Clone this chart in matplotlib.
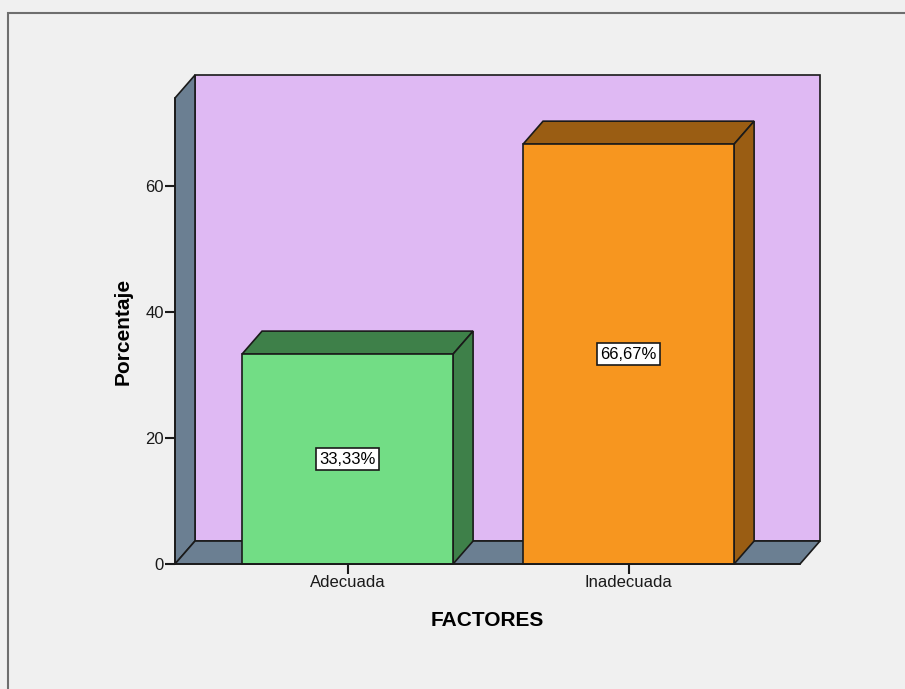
import matplotlib.pyplot as plt
from matplotlib.patches import Polygon, Rectangle

plt.rcParams['font.family'] = ['Liberation Sans', 'DejaVu Sans']

categorias = ['Adecuada', 'Inadecuada']
porcentajes = [33.33, 66.67]
etiquetas = ['33,33%', '66,67%']
color_frente = ['#72dd85', '#f7961f']
color_lado = ['#3e8049', '#9a5d13']

W, H = 905, 689
fig = plt.figure(figsize=(W / 100, H / 100), dpi=100)
fig.patch.set_facecolor('#f0f0f0')

# marco exterior
fig.add_artist(Rectangle((8 / W, -0.05), 1.0, 1 - 13 / H + 0.05,
                         transform=fig.transFigure, fill=False,
                         edgecolor='#6e6e6e', lw=1.5))

ax = fig.add_axes([175 / W, 1 - 564 / H, 625 / W, 466 / H])
ax.set_facecolor('none')

x0, x1 = -0.614, 1.610
ymax = 74
ax.set_xlim(x0, x1)
ax.set_ylim(0, ymax)

# profundidad del efecto 3D en unidades de datos
dx = 20 / 281
dy = 23 / 6.3
ancho = 0.751

def poly(pts, fc, z=1):
    ax.add_patch(Polygon(pts, closed=True, facecolor=fc, edgecolor='#1a1a1a',
                         lw=1.2, clip_on=False, zorder=z, joinstyle='miter'))

# paredes y piso
poly([(x0 + dx, dy), (x1 + dx, dy), (x1 + dx, ymax + dy), (x0 + dx, ymax + dy)], '#dfb9f3')
poly([(x0, 0), (x0 + dx, dy), (x0 + dx, ymax + dy), (x0, ymax)], '#6b7f92')
poly([(x0, 0), (x1, 0), (x1 + dx, dy), (x0 + dx, dy)], '#6b7f92')

for i, (v, lab) in enumerate(zip(porcentajes, etiquetas)):
    a, b = i - ancho / 2, i + ancho / 2
    poly([(a, v), (b, v), (b + dx, v + dy), (a + dx, v + dy)], color_lado[i], 3)
    poly([(b, 0), (b + dx, dy), (b + dx, v + dy), (b, v)], color_lado[i], 3)
    poly([(a, 0), (b, 0), (b, v), (a, v)], color_frente[i], 4)
    ax.text(i, v / 2, lab, ha='center', va='center', fontsize=12, zorder=6,
            bbox=dict(boxstyle='square,pad=0.2', fc='white', ec='#1a1a1a', lw=1.2))

for s in ['top', 'right']:
    ax.spines[s].set_visible(False)
for s in ['left', 'bottom']:
    ax.spines[s].set_color('#1a1a1a')
    ax.spines[s].set_linewidth(1.2)
    ax.spines[s].set_zorder(5)

ax.set_xticks(range(len(categorias)))
ax.set_xticklabels(categorias, fontsize=12, color='#1a1a1a')
ax.set_yticks([0, 20, 40, 60])
ax.tick_params(axis='both', length=7, width=1.5, color='#1a1a1a', labelsize=12,
               labelcolor='#1a1a1a', pad=1)

ax.set_xlabel('FACTORES', fontsize=15, fontweight='bold', labelpad=15)
ax.set_ylabel('Porcentaje', fontsize=15, fontweight='bold', labelpad=9)

fig.savefig('out.png', dpi=100, facecolor=fig.get_facecolor())
